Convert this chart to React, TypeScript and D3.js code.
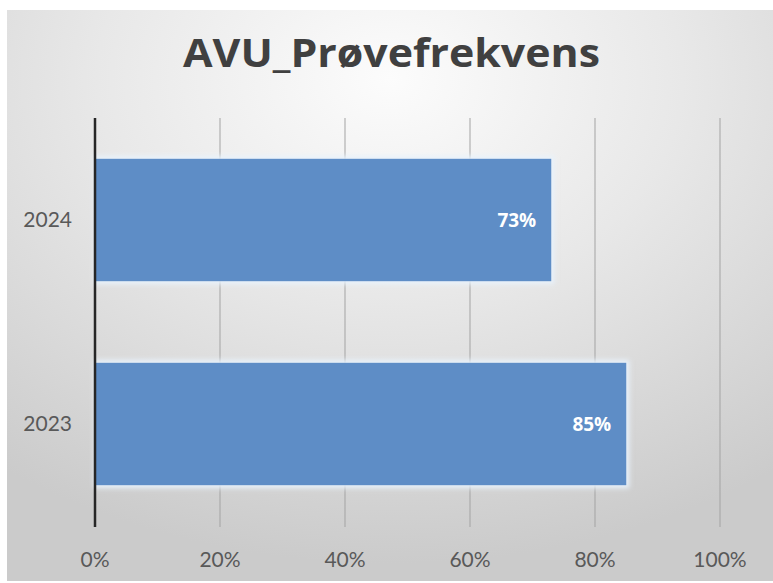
import React from "react";
import * as d3 from "d3";

const categories = ["2024", "2023"];
const values = [0.73, 0.85];
const valueLabels = ["73%", "85%"];
const xTicks = [0, 0.2, 0.4, 0.6, 0.8, 1.0];
const title = "AVU_Prøvefrekvens";

const W = 773;
const H = 583;

export default function App() {
  const x = d3.scaleLinear().domain([0, 1]).range([95, 720]);
  const y = d3
    .scaleBand<string>()
    .domain(categories)
    .range([118, 526])
    .paddingInner(0.4)
    .paddingOuter(0.2);
  const fmt = d3.format(".0%");
  const font = "Lato, 'Open Sans', sans-serif";
  const boldFont = "'Open Sans', Lato, sans-serif";

  return (
    <div style={{ position: "fixed", left: 0, top: 0, width: W, height: H, background: "#fff" }}>
      <svg width={W} height={H} style={{ display: "block" }}>
        <defs>
          <radialGradient id="bg" cx="50%" cy="12%" r="85%" fx="50%" fy="12%">
            <stop offset="0%" stopColor="#fcfcfc" />
            <stop offset="45%" stopColor="#e8e8e8" />
            <stop offset="100%" stopColor="#cbcbcb" />
          </radialGradient>
          <filter id="glow" x="-10%" y="-20%" width="120%" height="140%">
            <feGaussianBlur stdDeviation="2.5" />
          </filter>
        </defs>
        <rect x={7} y={10} width={W - 7} height={571} fill="url(#bg)" />
        <text
          x={391.5}
          y={67}
          textAnchor="middle"
          fontFamily={boldFont}
          fontWeight={700}
          fontSize={40}
          fill="#404040"
          textLength={417}
          lengthAdjust="spacingAndGlyphs"
        >
          {title}
        </text>
        {xTicks.slice(1).map((t) => (
          <line key={t} x1={x(t)} x2={x(t)} y1={118} y2={527} stroke="#a3a3a3" strokeWidth={1} />
        ))}
        {categories.map((c, i) => (
          <g key={c}>
            <rect
              x={x(0) - 1}
              y={(y(c) as number) - 3}
              width={x(values[i]) - x(0) + 4}
              height={y.bandwidth() + 6}
              fill="#e8f2fb"
              filter="url(#glow)"
            />
          </g>
        ))}
        {categories.map((c, i) => (
          <g key={c + "b"}>
            <rect
              x={x(0)}
              y={y(c) as number}
              width={x(values[i]) - x(0)}
              height={y.bandwidth()}
              fill="#5e8dc6"
            />
            <text
              x={x(values[i]) - 15}
              y={(y(c) as number) + y.bandwidth() / 2}
              dy="0.35em"
              textAnchor="end"
              fontFamily={boldFont}
              fontWeight={700}
              fontSize={19}
              fill="#ffffff"
            >
              {valueLabels[i]}
            </text>
            <text
              x={72}
              y={(y(c) as number) + y.bandwidth() / 2}
              dy="0.35em"
              textAnchor="end"
              fontFamily={font}
              fontSize={21}
              fill="#595959"
            >
              {c}
            </text>
          </g>
        ))}
        <line x1={x(0)} x2={x(0)} y1={118} y2={527} stroke="#262626" strokeWidth={2.5} />
        {xTicks.map((t) => (
          <text
            key={"l" + t}
            x={x(t)}
            y={567}
            textAnchor="middle"
            fontFamily={font}
            fontSize={21}
            fill="#595959"
          >
            {fmt(t)}
          </text>
        ))}
      </svg>
    </div>
  );
}
